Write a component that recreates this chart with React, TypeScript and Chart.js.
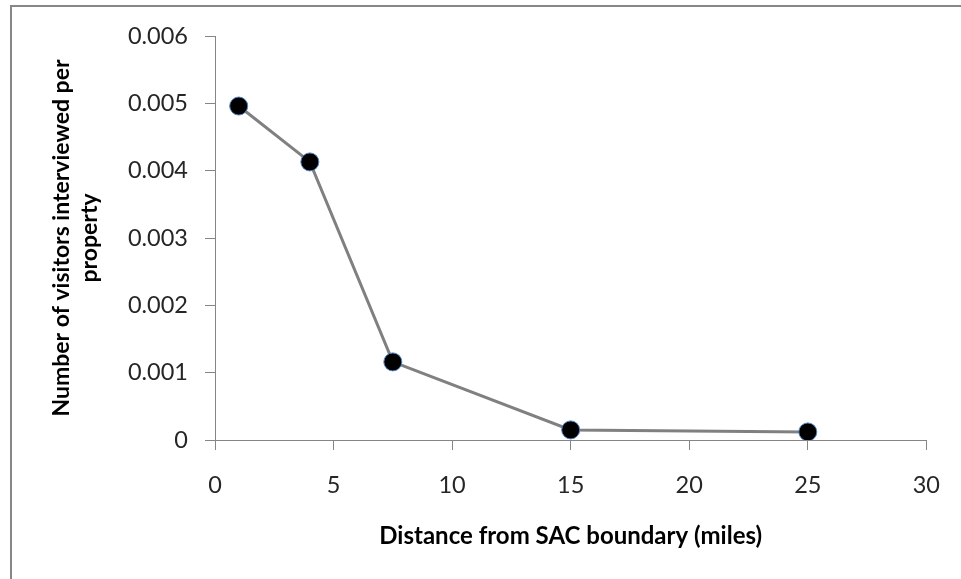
import React, { useEffect, useRef } from "react";
import { Chart, registerables } from "chart.js";

Chart.register(...registerables);

const distances = [1, 4, 7.5, 15, 25];
const visitorsPerProperty = [0.00496, 0.00413, 0.00116, 0.00015, 0.00012];
const xTitle = "Distance from SAC boundary (miles)";
const yTitle = ["Number of visitors interviewed per", "property"];

export default function App() {
  const ref = useRef<HTMLCanvasElement | null>(null);

  useEffect(() => {
    if (!ref.current) return;
    const font = "Lato, 'Open Sans', sans-serif";
    const chart = new Chart(ref.current, {
      type: "scatter",
      data: {
        datasets: [
          {
            data: distances.map((d, i) => ({ x: d, y: visitorsPerProperty[i] })),
            showLine: true,
            borderColor: "#808080",
            borderWidth: 3,
            pointRadius: 9,
            pointHoverRadius: 9,
            pointBackgroundColor: "#000000",
            pointBorderColor: "#4f81bd",
            pointBorderWidth: 1,
          },
        ],
      },
      options: {
        animation: false,
        responsive: false,
        events: [],
        layout: { padding: { left: 0, right: 32, top: 36, bottom: 0 } },
        plugins: { legend: { display: false }, tooltip: { enabled: false } },
        scales: {
          x: {
            type: "linear",
            min: 0,
            max: 30,
            afterFit: (s: any) => {
              s.height = 139;
            },
            ticks: {
              stepSize: 5,
              color: "#262626",
              font: { family: font, size: 23.5 },
              padding: 21,
            },
            grid: { drawOnChartArea: false, drawTicks: true, tickLength: 10, color: "#868686" },
            border: { display: true, color: "#868686", width: 1 },
            title: {
              display: true,
              text: xTitle,
              color: "#000000",
              font: { family: font, size: 24, weight: "bold", lineHeight: 1.2 },
              padding: { top: 0, bottom: 28 },
            },
          },
          y: {
            min: 0,
            max: 0.006,
            afterFit: (s: any) => {
              s.width = 215;
            },
            ticks: {
              stepSize: 0.001,
              color: "#262626",
              font: { family: font, size: 23.5 },
              padding: 17,
              callback: (v: any) => (Number(v) === 0 ? "0" : Number(v).toFixed(3)),
            },
            grid: { drawOnChartArea: false, drawTicks: true, tickLength: 10, color: "#868686" },
            border: { display: true, color: "#868686", width: 1 },
            title: {
              display: true,
              text: yTitle,
              color: "#000000",
              font: { family: font, size: 23, weight: "bold", lineHeight: 1.2 },
              padding: { top: 48, bottom: 0 },
            },
          },
        },
      },
    });
    return () => chart.destroy();
  }, []);

  return (
    <div
      style={{
        position: "absolute",
        left: 0,
        top: 0,
        width: 961,
        height: 579,
        overflow: "hidden",
        background: "#ffffff",
      }}
    >
      <div
        style={{
          position: "absolute",
          left: 10,
          top: 5,
          width: 1100,
          height: 700,
          borderLeft: "2px solid #878787",
          borderTop: "2px solid #878787",
        }}
      />
      <canvas
        ref={ref}
        width={961}
        height={579}
        style={{ position: "absolute", left: 0, top: 0, width: 961, height: 579 }}
      />
    </div>
  );
}
